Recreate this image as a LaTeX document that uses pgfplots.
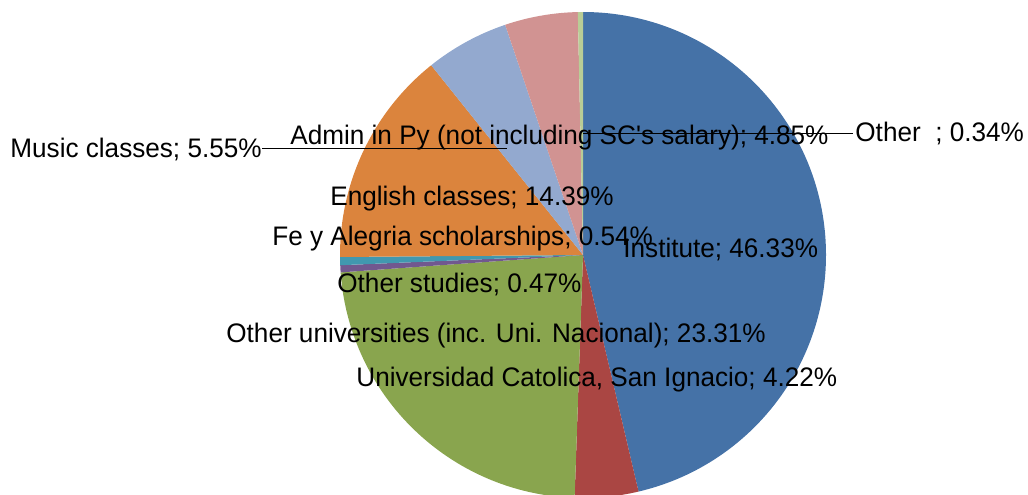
\documentclass[border=0pt]{standalone}
\usepackage{fontspec}
\setmainfont{Liberation Sans}[FakeStretch=0.975]
\usepackage{pgfplots}
\pgfplotsset{compat=1.18}

\definecolor{cInst}{HTML}{4572A7}
\definecolor{cUC}{HTML}{AA4643}
\definecolor{cUniv}{HTML}{89A54E}
\definecolor{cStud}{HTML}{71588F}
\definecolor{cFe}{HTML}{4198AF}
\definecolor{cEng}{HTML}{DB843D}
\definecolor{cMus}{HTML}{93A9CF}
\definecolor{cAdm}{HTML}{D19392}
\definecolor{cOth}{HTML}{B9CD96}

% slice from cumulative percent #1 to #2, clockwise from 12 o'clock
\newcommand{\slice}[3]{%
  \fill[#3] (axis cs:583,239) -- ++({90-3.6*(#1)}:121.5pt)
    arc[start angle={90-3.6*(#1)}, end angle={90-3.6*(#2)}, radius=121.5pt] -- cycle;}
\newcommand{\lbl}[3]{\node[anchor=base west, inner sep=0pt] at (axis cs:#1,{494-#2}) {#3};}

\begin{document}
\begin{tikzpicture}
\path[use as bounding box] (0,0) rectangle (514pt,247pt);
\clip (0,0) rectangle (514pt,247pt);
\begin{axis}[
    at={(0,0)}, anchor=south west,
    x=0.5pt, y=0.5pt,
    xmin=0, xmax=1028, ymin=0, ymax=494,
    hide axis, clip=false,
    font=\fontsize{13.4}{16}\selectfont,
]
% shares in percent: 46.33, 4.22, 23.31, 0.47, 0.54, 14.39, 5.55, 4.85, 0.34
\slice{0}{46.33}{cInst}
\slice{46.33}{50.55}{cUC}
\slice{50.55}{73.86}{cUniv}
\slice{73.86}{74.33}{cStud}
\slice{74.33}{74.87}{cFe}
\slice{74.87}{89.26}{cEng}
\slice{89.26}{94.81}{cMus}
\slice{94.81}{99.66}{cAdm}
\slice{99.66}{100}{cOth}

% leader lines
\draw[black, line width=0.5pt] (axis cs:262,{494-148}) -- (axis cs:507,{494-148});
\draw[black, line width=0.5pt] (axis cs:583,{494-133}) -- (axis cs:853,{494-133});

\lbl{10}{157}{Music classes; 5.55\%}
\lbl{290}{144}{Admin in Py (not including SC\textquotesingle s salary); 4.85\%}
\lbl{855}{141}{Other~~; 0.34\%}
\lbl{330}{205}{English classes; 14.39\%}
\lbl{272}{245}{Fe y Alegria scholarships; 0.54\%}
\lbl{623}{257}{Institute; 46.33\%}
\lbl{337}{292}{Other studies; 0.47\%}
\lbl{226}{342}{Other universities (inc. Uni. Nacional); 23.31\%}
\lbl{356}{386}{Universidad Catolica, San Ignacio; 4.22\%}
\end{axis}
\end{tikzpicture}
\end{document}
